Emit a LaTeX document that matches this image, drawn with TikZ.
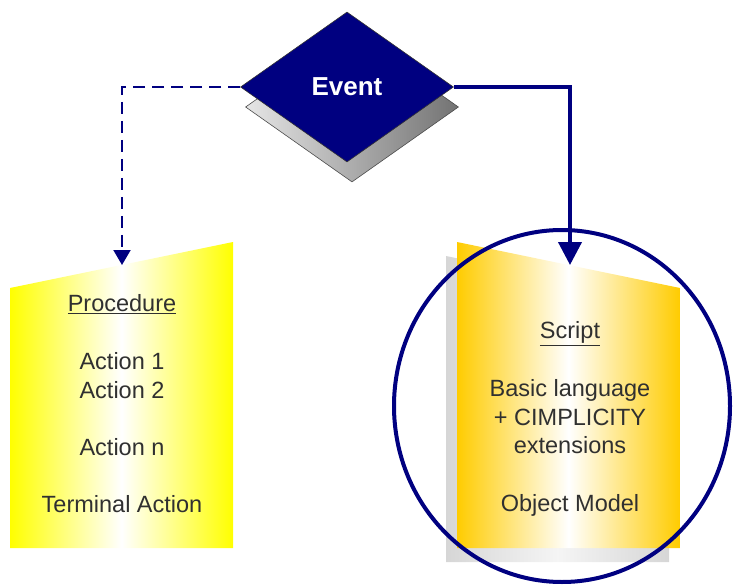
\documentclass[tikz,border=0pt]{standalone}
\usepackage{fontspec}
\setmainfont{Liberation Sans}
\usetikzlibrary{positioning, arrows.meta, shapes.geometric}
\definecolor{navy}{HTML}{000080}
\definecolor{lemon}{HTML}{FFFF00}
\definecolor{gold}{HTML}{FFCC00}
\definecolor{ink}{HTML}{303030}
\tikzset{
  evt/.style={diamond, draw=black!80, fill=navy, text=white, font=\fontsize{26}{30}\selectfont\bfseries,
              minimum width=213pt, minimum height=150pt, inner sep=0pt, line width=0.6pt},
  evtsh/.style={diamond, draw=black!70, left color=black!10, right color=black!55,
                minimum width=213pt, minimum height=150pt, inner sep=0pt, line width=0.6pt},
  arr/.style={-{Triangle[width=23pt, length=23pt]}, line width=4pt, draw=navy},
  arrd/.style={-{Triangle[width=17pt, length=15pt]}, line width=2pt, draw=navy, dash pattern=on 12pt off 7pt},
  txt/.style={align=center, text=ink, font=\fontsize{23.5}{28.7}\selectfont},
  ring/.style={ellipse, draw=navy, line width=4pt, minimum width=336pt, minimum height=352pt, inner sep=0pt},
}
\begin{document}
\begin{tikzpicture}[x=1pt, y=-1pt]
    \useasboundingbox (0,0) rectangle (733,588);
    % procedure sheet
    \shade[left color=lemon, right color=lemon, middle color=white]
      (10,288) -- (233,242) -- (233,548) -- (10,548) -- cycle;
    % script sheet and its shadow
    \shade[left color=black!16, right color=black!16, middle color=black!4]
      (446,256) -- (669,302) -- (669,562) -- (446,562) -- cycle;
    \shade[left color=gold, right color=gold, middle color=white]
      (457,242) -- (680,288) -- (680,548) -- (457,548) -- cycle;
    \coordinate (proctop) at (122,265);
    \coordinate (scrtop)  at (570,265);
    % texts
    \node[txt] (proc) at (122,404) {\underline{Procedure}\\[28.7pt] Action 1\\ Action 2\\[28.7pt] Action n\\[28.7pt] Terminal Action};
    \node[txt] (scr)  at (570,419) {\underline{Script}\\[28.7pt] Basic language\\ + CIMPLICITY\\ extensions\\[28.7pt] Object Model};
    \node[ring] (ring) at (562,406) {};
    % event
    \node[evtsh] (evsh)  at (352,107) {};
    \node[evt]   (event) at (347,87)  {Event};

    \draw[arrd] (event.west) -| (proctop);
    \draw[arr]  (event.east) -| (scrtop);
\end{tikzpicture}
\end{document}
